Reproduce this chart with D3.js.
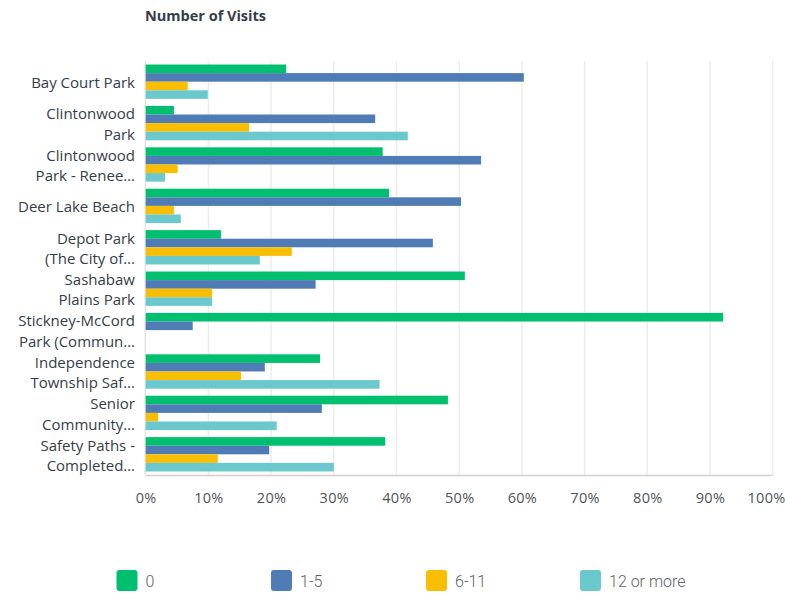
<!DOCTYPE html>
<html><head><meta charset="utf-8">
<script src="https://cdn.jsdelivr.net/npm/d3@7"></script>
<style>body{margin:0;background:#fff;font-family:"Open Sans",sans-serif;}</style>
</head><body><svg id="c" width="785" height="593"></svg>
<script>
const categories = [
  ["Bay Court Park"],
  ["Clintonwood", "Park"],
  ["Clintonwood", "Park - Renee…"],
  ["Deer Lake Beach"],
  ["Depot Park", "(The City of…"],
  ["Sashabaw", "Plains Park"],
  ["Stickney-McCord", "Park (Commun…"],
  ["Independence", "Township Saf…"],
  ["Senior", "Community…"],
  ["Safety Paths -", "Completed…"]
];
const seriesNames = ["0", "1-5", "6-11", "12 or more"];
const s0 = [22.4, 4.5, 37.8, 38.8, 12.0, 50.9, 92.1, 27.8, 48.2, 38.2];
const s1 = [60.3, 36.6, 53.5, 50.3, 45.8, 27.1, 7.5, 19.0, 28.1, 19.7];
const s2 = [6.7, 16.5, 5.1, 4.5, 23.3, 10.6, 0, 15.2, 2.0, 11.5];
const s3 = [9.9, 41.8, 3.1, 5.6, 18.2, 10.6, 0, 37.3, 20.9, 30.0];
const ticks = [0,10,20,30,40,50,60,70,80,90,100];
const colors = ["#00BF6F", "#507CB6", "#F9BE00", "#6BC8CD"];
const series = [s0, s1, s2, s3];

const svg = d3.select("#c");
const L = 145.7, R = 772.7, T = 61, B = 475;
const x = d3.scaleLinear().domain([0,100]).range([L,R]);
const y = d3.scaleBand().domain(d3.range(categories.length)).range([T,B]).paddingInner(0.17).paddingOuter(0.085);
const ys = d3.scaleBand().domain(d3.range(4)).range([0, y.bandwidth()]);

svg.append("text").attr("x",145).attr("y",21).text("Number of Visits")
  .attr("font-size",14.5).attr("font-weight","bold").attr("fill","#333e48").attr("font-family","'Open Sans', sans-serif");

// grid
svg.append("g").selectAll("line").data(ticks.slice(1)).join("line")
  .attr("x1",d=>x(d)).attr("x2",d=>x(d)).attr("y1",T).attr("y2",B)
  .attr("stroke","#ececec").attr("stroke-width",1.5);
svg.append("line").attr("x1",L-0.5).attr("x2",L-0.5).attr("y1",T).attr("y2",B).attr("stroke","#d8d8d8").attr("stroke-width",1);

// bars
const g = svg.append("g");
series.forEach((s,si)=>{
  g.selectAll(null).data(s).join("rect")
    .attr("x",L).attr("y",(d,i)=>y(i)+ys(si))
    .attr("width",d=>x(d)-L).attr("height",ys.bandwidth())
    .attr("fill",colors[si]);
});

// bottom axis
svg.append("line").attr("x1",L).attr("x2",R).attr("y1",B+0.5).attr("y2",B+0.5).attr("stroke","#cfcfcf").attr("stroke-width",1.5);
const ax = svg.append("g").attr("transform",`translate(0,${B})`).call(d3.axisBottom(x).tickValues(ticks).tickFormat(d=>d+"%").tickSize(0).tickPadding(0));
ax.select(".domain").remove();
ax.selectAll("text").attr("dy",null).attr("y",28).attr("font-size",14.5).attr("letter-spacing","0.3px")
  .attr("fill","#4f5458").attr("font-family","'Open Sans', sans-serif");
ax.selectAll(".tick").filter(d=>d===100).select("text").attr("text-anchor","end").attr("x",785-x(100));

// category labels
const lab = svg.append("g");
categories.forEach((c,i)=>{
  const cy = y(i)+y.bandwidth()/2;
  const n = c.length;
  c.forEach((t,j)=>{
    lab.append("text").attr("x",135).attr("y",cy+(j-(n-1)/2)*20.5+6.5)
      .attr("text-anchor","end").attr("font-size",15).attr("fill","#333e48")
      .attr("font-family","'Open Sans', sans-serif").text(t);
  });
});

// legend
const lx = [116.5, 271, 426, 580];
const lg = svg.append("g");
seriesNames.forEach((n,i)=>{
  lg.append("rect").attr("x",lx[i]).attr("y",570).attr("width",21).attr("height",21).attr("rx",3).attr("fill",colors[i]);
  lg.append("text").attr("x",lx[i]+29).attr("y",587).text(n).attr("font-size",16).attr("fill","#5f6368").attr("font-family","Roboto, sans-serif").attr("font-weight",300);
});
</script></body></html>
